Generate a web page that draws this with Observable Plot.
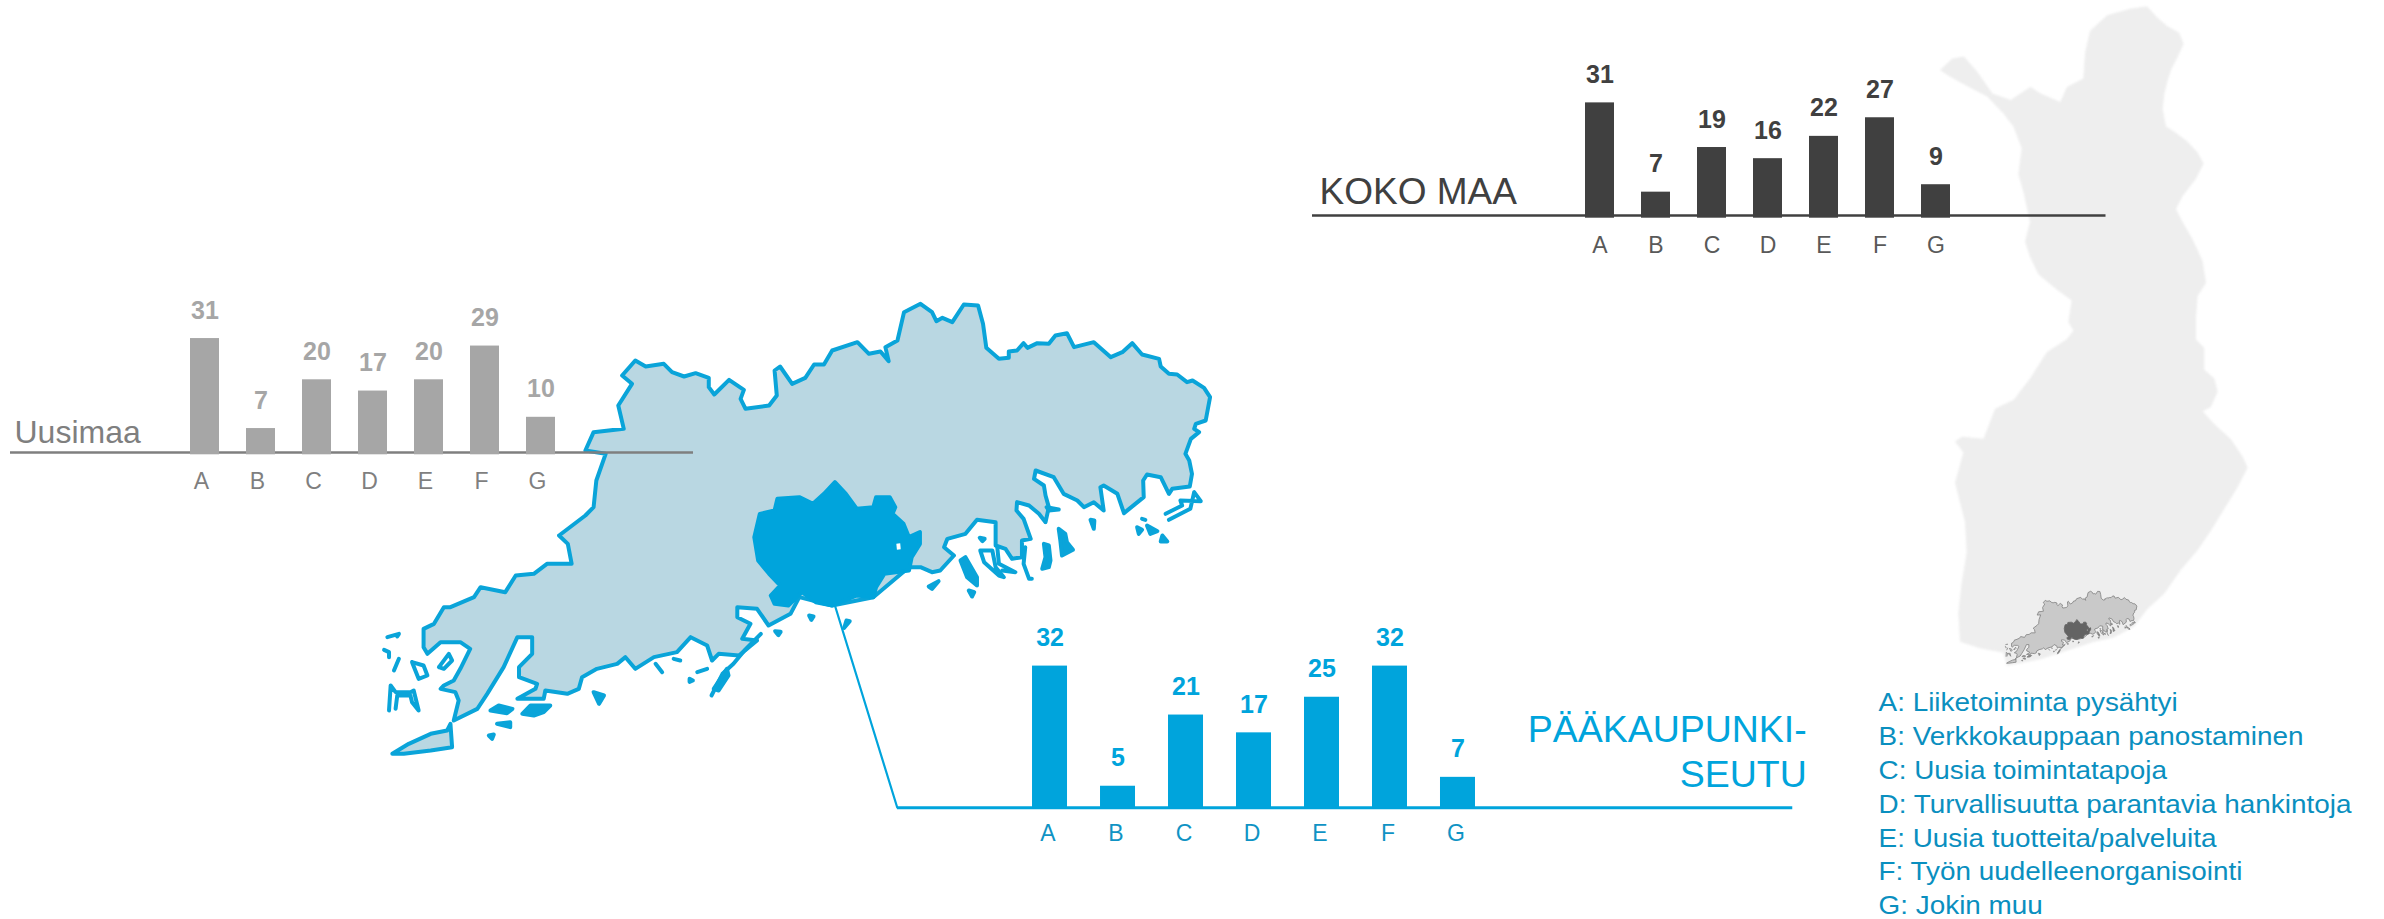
<!DOCTYPE html>
<html><head><meta charset="utf-8">
<style>html,body{margin:0;padding:0;background:#fff;width:2384px;height:919px;overflow:hidden;position:relative}svg{position:absolute}</style>
<script src="https://cdn.jsdelivr.net/npm/d3@7"></script>
<script src="https://cdn.jsdelivr.net/npm/@observablehq/plot@0.6"></script>
</head><body><script>
const categories = ["A","B","C","D","E","F","G"];
const kokoMaa = [31,7,19,16,22,27,9];
const uusimaa = [31,7,20,17,20,29,10];
const paakaupunki = [32,5,21,17,25,32,7];
const legendLines = ["A: Liiketoiminta pysähtyi","B: Verkkokauppaan panostaminen","C: Uusia toimintatapoja","D: Turvallisuutta parantavia hankintoja","E: Uusia tuotteita/palveluita","F: Työn uudelleenorganisointi","G: Jokin muu"];

// Map outlines, in arbitrary map units
const finlandOutline = [[800,15],[830,40],[860,60],[895,75],[908,100],[890,130],[870,160],[858,190],[850,215],[845,250],[855,290],[885,305],[920,325],[950,350],[968,375],[945,410],[905,450],[885,480],[905,510],[935,550],[965,600],[975,650],[950,680],[945,730],[945,780],[970,800],[970,850],[1000,870],[1010,900],[990,935],[965,945],[1000,975],[1050,1010],[1085,1050],[1100,1075],[1070,1120],[1030,1170],[990,1220],[950,1265],[900,1310],[850,1365],[800,1400],[760,1440],[700,1465],[640,1475],[560,1495],[480,1515],[380,1530],[370,1500],[300,1490],[240,1475],[235,1410],[245,1340],[260,1270],[255,1200],[225,1110],[250,1040],[225,1015],[245,1005],[310,1010],[345,940],[400,920],[450,870],[500,810],[560,780],[580,760],[565,740],[575,690],[530,665],[475,630],[450,590],[435,555],[450,510],[430,440],[415,400],[425,340],[400,290],[370,260],[320,220],[270,200],[210,175],[180,160],[215,135],[250,130],[290,165],[335,215],[390,230],[450,200],[480,215],[540,235],[560,200],[610,180],[615,120],[630,70],[680,35],[750,20]];
const uusimaaOutline = [[410,510],[425,455],[480,445],[470,375],[495,310],[477,285],[501,240],[520,258],[553,250],[568,275],[590,288],[611,278],[635,292],[635,320],[645,342],[672,298],[699,328],[693,355],[702,385],[745,375],[759,345],[755,270],[765,258],[787,310],[811,292],[827,252],[845,252],[860,210],[906,185],[927,220],[948,213],[963,242],[957,200],[979,180],[991,95],[1021,70],[1042,95],[1050,122],[1061,112],[1079,125],[1100,72],[1126,75],[1135,130],[1141,202],[1164,235],[1182,232],[1182,213],[1197,210],[1209,188],[1216,202],[1234,188],[1255,190],[1267,165],[1288,158],[1301,200],[1337,185],[1368,230],[1389,215],[1407,188],[1425,222],[1456,235],[1459,258],[1474,280],[1489,282],[1507,305],[1517,300],[1538,322],[1549,350],[1541,420],[1523,430],[1520,445],[1529,455],[1514,475],[1504,520],[1511,540],[1516,580],[1512,618],[1480,625],[1474,640],[1459,590],[1434,582],[1427,600],[1428,650],[1392,698],[1380,640],[1355,615],[1349,620],[1355,690],[1337,665],[1319,680],[1307,660],[1282,640],[1264,590],[1231,570],[1228,595],[1246,615],[1249,645],[1255,680],[1249,725],[1237,700],[1219,675],[1197,665],[1196,690],[1209,715],[1222,775],[1206,780],[1206,830],[1188,835],[1176,805],[1158,795],[1158,725],[1124,718],[1103,760],[1070,775],[1064,800],[1082,825],[1057,870],[1042,875],[1021,860],[1000,860],[935,950],[860,975],[800,950],[784,1000],[744,1035],[723,985],[687,980],[687,1010],[711,1030],[696,1075],[723,1080],[690,1125],[653,1120],[641,1140],[632,1095],[602,1070],[577,1115],[535,1130],[501,1165],[483,1130],[468,1150],[431,1165],[404,1190],[398,1225],[377,1240],[337,1230],[334,1255],[286,1255],[319,1225],[322,1210],[289,1190],[289,1160],[313,1120],[313,1070],[286,1070],[261,1160],[231,1240],[213,1285],[170,1320],[179,1260],[173,1235],[146,1225],[152,1215],[170,1200],[182,1165],[200,1105],[182,1085],[146,1085],[122,1120],[115,1100],[115,1045],[134,1030],[152,980],[164,980],[207,950],[219,920],[264,935],[283,885],[316,880],[340,850],[377,850],[385,850],[378,790],[362,765],[410,705],[425,680],[430,600],[447,520]];
const peninsula = [[164,1330],[167,1400],[128,1410],[79,1420],[58,1420],[88,1390],[128,1360],[158,1350]];
const metroOutline = [[865,605],[885,640],[905,685],[935,680],[940,650],[965,650],[975,680],[970,700],[990,730],[1000,770],[1020,755],[1020,790],[1005,830],[1000,870],[955,880],[940,920],[935,950],[905,945],[860,975],[830,965],[805,935],[780,975],[755,970],[748,945],[765,915],[745,880],[725,840],[718,770],[728,700],[755,690],[760,655],[800,650],[825,670],[845,640]];
const metroHole = [[977,790],[984,788],[985,806],[978,808]];
const connector = [[865,975],[978.6,1581]];
const isletsFilled = [
 [[237,1290],[252,1275],[277,1285],[267,1298]],
 [[295,1300],[310,1275],[346,1275],[334,1295],[316,1305]],
 [[425,1235],[444,1245],[435,1270]],
 [[644,1225],[668,1165],[671,1185],[653,1230]],
 [[249,1330],[273,1325],[273,1340]],
 [[234,1365],[243,1362],[240,1375]],
 [[1094,840],[1103,830],[1124,890],[1124,915],[1106,890]],
 [[1109,930],[1119,935],[1115,948]],
 [[1036,918],[1054,902],[1042,925]],
 [[1129,772],[1138,775],[1134,782]],
 [[1246,790],[1255,795],[1258,840],[1255,860],[1243,865],[1249,830]],
 [[1273,745],[1285,760],[1288,785],[1299,808],[1279,825],[1276,780]],
 [[1331,718],[1338,720],[1337,745]],
 [[1416,740],[1425,748],[1419,760]],
 [[1434,735],[1453,752],[1440,760]],
 [[1462,765],[1471,783],[1459,783]],
 [[1251,680],[1273,687],[1255,690]],
 [[886,1020],[892,1022],[882,1042]],
 [[818,1005],[826,1008],[822,1018]],
 [[756,1052],[766,1054],[762,1064]],
 [[600,1195],[606,1200],[600,1204]]
];
const isletsOpen = [
 [[94,1145],[115,1155],[122,1185],[106,1195],[94,1145]],
 [[143,1160],[161,1120],[167,1140],[152,1165],[143,1160]],
 [[52,1290],[55,1215],[64,1235],[91,1235],[97,1230],[106,1290],[94,1265],[91,1245],[67,1245],[64,1285]],
 [[49,1070],[70,1060],[67,1068]],
 [[43,1108],[52,1115],[52,1130]],
 [[70,1135],[61,1170]],
 [[538,1150],[550,1175]],
 [[571,1135],[583,1140]],
 [[614,1175],[632,1165]],
 [[1130,810],[1152,810],[1158,860],[1173,890],[1164,885],[1137,845],[1130,810]],
 [[1161,800],[1164,850],[1194,875],[1170,870]],
 [[1212,800],[1209,850],[1219,895],[1224,895]],
 [[1468,700],[1498,675],[1495,660],[1532,662],[1520,635],[1513,685],[1474,718]],
 [[1425,715],[1431,718]],
 [[640,1245],[660,1180],[680,1150],[700,1110],[730,1060]]
];

const FONT = '"Liberation Sans", Arial, sans-serif';
function place(svg, left, top, filter) {
  svg.style.left = left + "px"; svg.style.top = top + "px";
  if (filter) svg.style.filter = filter;
  document.body.appendChild(svg);
  return svg;
}
const unitScales = (w, h, dx, dy) => ({
  width: w, height: h, margin: 0,
  x: {axis: null, domain: [0, dx], range: [0, w]},
  y: {axis: null, domain: [dy, 0], range: [h, 0]},
  style: {background: "transparent", overflow: "visible"}
});
const px = d => d[0], py = d => d[1];
function shape(points, o) {
  return Plot.line(points, {x: px, y: py, curve: "linear-closed", strokeLinejoin: "round", ...o});
}
function regionMarks(fill, stroke, sw, metro) {
  return [
    shape(uusimaaOutline, {fill, stroke, strokeWidth: sw}),
    shape(peninsula, {fill, stroke, strokeWidth: sw}),
    ...isletsFilled.map(p => shape(p, {fill: stroke, stroke, strokeWidth: sw})),
    ...isletsOpen.map(p => Plot.line(p, {x: px, y: py, stroke, strokeWidth: sw, strokeLinejoin: "round", strokeLinecap: "round"})),
    shape(metroOutline, {fill: metro, stroke: metro, strokeWidth: sw}),
    shape(metroHole, {fill: "#ffffff"})
  ];
}

// Finland background
place(Plot.plot({...unitScales(400, 680, 1200, 1565),
  marks: [shape(finlandOutline, {fill: "#eeeeee", stroke: "#eeeeee", strokeWidth: 1})]}), 1880, 0, "blur(1px)");
// Uusimaa inset on Finland
place(Plot.plot({...unitScales(137, 80, 1568, 1500),
  marks: regionMarks("#c9c9c9", "#808080", 0.8, "#636363")}), 2000.6, 586.5);
// Large Uusimaa map with connector
place(Plot.plot({...unitScales(860, 540, 1568, 1620),
  marks: [...regionMarks("#b9d7e2", "#0aa4d9", 4, "#00a4dc"),
    Plot.line(connector, {x: px, y: py, stroke: "#00a4dc", strokeWidth: 2.2})]}), 360, 280, "blur(0.5px)");

function panel(c) {
  const data = categories.map((k, i) => ({k, v: c.values[i]}));
  const svg = Plot.plot({
    width: c.width, height: c.height, margin: 0,
    x: {axis: null, domain: categories, paddingInner: c.padding, paddingOuter: 0, range: c.xr, align: 0.5},
    y: {axis: null, domain: [0, 40], range: c.yr},
    style: {background: "transparent", overflow: "visible", fontFamily: FONT},
    marks: [
      Plot.ruleY([0], {stroke: c.lineColor, strokeWidth: c.lineWidth, dy: c.lineDy}),
      Plot.barY(data, {x: "k", y: "v", fill: c.barColor}),
      Plot.text(data, {x: "k", y: "v", text: d => String(d.v), dy: -20, lineAnchor: "bottom", fontSize: c.valueSize, fontWeight: "bold", fill: c.barColor}),
      Plot.axisX({tickSize: 0, tickPadding: c.tickPadding, fontSize: c.tickSize, fill: c.tickColor, label: null, anchor: "bottom", frameAnchor: "bottom", dx: c.tickDx, y: 0}),
      Plot.text([c.title], {frameAnchor: c.titleAnchor, dx: c.titleDx, dy: c.titleDy, textAnchor: c.titleText, lineAnchor: "top", fontSize: c.titleSize, fill: c.titleColor, lineHeight: c.titleLH || 1})
    ]
  });
  place(svg, c.left, c.top);
}
panel({values: uusimaa, left: 10, top: 300, width: 683, height: 220, xr: [179.6, 544.2], yr: [154.3, 4.3], padding: 0.49,
  lineColor: "#7f7f7f", lineWidth: 2.5, lineDy: -2.3, barColor: "#a6a6a6", valueSize: 25, tickSize: 23, tickColor: "#7f7f7f", tickPadding: 18, tickDx: -3.5,
  title: "Uusimaa", titleAnchor: "top-left", titleDx: 4, titleDy: 120, titleText: "start", titleSize: 32, titleColor: "#7f7f7f"});
panel({values: kokoMaa, left: 1312, top: 40, width: 793.5, height: 240, xr: [273, 637.6], yr: [177.7, 28.9], padding: 0.49,
  lineColor: "#404040", lineWidth: 2.5, lineDy: -2.7, barColor: "#404040", valueSize: 25, tickSize: 23, tickColor: "#595959", tickPadding: 18, tickDx: 0,
  title: "KOKO MAA", titleAnchor: "top-left", titleDx: 7, titleDy: 137, titleText: "start", titleSize: 37, titleColor: "#404040"});
panel({values: paakaupunki, left: 896.7, top: 620, width: 895.3, height: 240, xr: [133.3, 579.3], yr: [188, 10], padding: 0.48,
  lineColor: "#00a4dc", lineWidth: 3, lineDy: -0.7, barColor: "#00a4dc", valueSize: 25, tickSize: 23, tickColor: "#0f93c4", tickPadding: 16, tickDx: -2,
  title: "PÄÄKAUPUNKI-\nSEUTU", titleAnchor: "top-right", titleDx: 14, titleDy: 90, titleText: "end", titleSize: 37.5, titleColor: "#00a4dc", titleLH: 1.19});

// Category key
const key = place(Plot.plot({...unitScales(524, 249, 524, 249),
  style: {background: "transparent", overflow: "visible", fontFamily: FONT},
  marks: [Plot.text([legendLines.join("\n")], {frameAnchor: "top-left", dx: 18, dy: 17, textAnchor: "start", lineAnchor: "top", fontSize: 25.6, lineHeight: 33.8 / 25.6, fill: "#0a8fbf"})]}), 1860, 670);
key.style.transformOrigin = "18px 0";
key.style.transform = "scaleX(1.09)";
</script></body></html>
